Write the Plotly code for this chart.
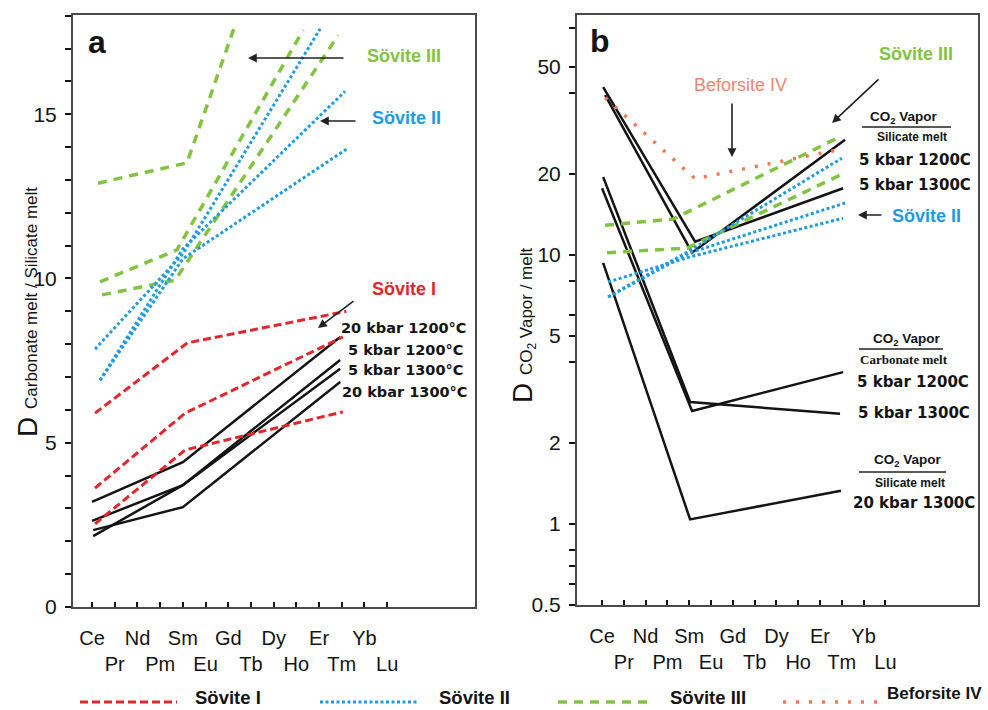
import plotly.graph_objects as go

W, H = 988, 710

# ---------------- axis categories / ticks ----------------
ELEMENTS = ["Ce", "Pr", "Nd", "Pm", "Sm", "Eu", "Gd", "Tb", "Dy", "Ho", "Er", "Tm", "Yb", "Lu"]
ELEMENT_IDX = list(range(len(ELEMENTS)))
ELEMENT_TEXT = [e if i % 2 == 0 else "<br>" + e for i, e in enumerate(ELEMENTS)]

A_Y_MAJOR = [0, 5, 10, 15]
A_Y_MINOR = [1, 2, 3, 4, 6, 7, 8, 9, 11, 12, 13, 14, 16, 17, 18]
B_Y_MAJOR = [0.5, 1, 2, 5, 10, 20, 50]
B_Y_MAJOR_TEXT = ["0.5", "1", "2", "5", "10", "20", "50"]
B_Y_MINOR = [0.6, 0.7, 0.8, 4, 6, 8, 40, 70]

# ---------------- panel a : D carbonate melt / silicate melt ----------------
# x in element-index units (Ce = 0 ... Lu = 13)
A_SOVITE_I_X = [[0.13, 4.2, 11.2], [0.13, 4.1, 11.05], [0.13, 4.1, 11.05]]
A_SOVITE_I_Y = [[5.9, 8.04, 9.0], [3.62, 5.9, 8.22], [2.53, 4.78, 5.94]]

A_SOVITE_II_X = [[0.13, 4.0, 10.05], [0.35, 4.0, 11.15], [0.35, 4.0, 11.28]]
A_SOVITE_II_Y = [[7.85, 10.75, 17.6], [6.9, 10.9, 15.7], [6.9, 10.6, 13.97]]

A_SOVITE_III_X = [[0.26, 4.18, 6.26], [0.35, 3.74, 9.3], [0.44, 3.66, 10.84]]
A_SOVITE_III_Y = [[12.9, 13.52, 17.63], [9.9, 10.87, 17.56], [9.5, 9.95, 17.4]]

A_EXP_X = [[0.0, 4.0, 10.93], [0.0, 4.0, 10.93], [0.05, 4.0, 10.93], [0.05, 4.0, 10.93]]
A_EXP_Y = [[3.2, 4.41, 8.22], [2.62, 3.71, 7.52], [2.16, 3.71, 7.25], [2.34, 3.04, 6.85]]

# ---------------- panel b : D CO2 vapor / melt (log) ----------------
B_SOVITE_II_X = [[0.28, 4.04, 11.06], [0.28, 4.04, 11.15], [0.28, 4.04, 11.0]]
B_SOVITE_II_Y = [[7.94, 9.84, 13.7], [6.98, 10.2, 15.6], [6.98, 10.4, 22.9]]

B_SOVITE_III_X = [[0.14, 3.26, 10.92], [0.23, 3.9, 10.92]]
B_SOVITE_III_Y = [[12.9, 13.6, 27.5], [10.2, 10.6, 19.8]]

B_BEFORSITE_IV_X = [[0.14, 4.27, 10.83]]
B_BEFORSITE_IV_Y = [[38.4, 19.2, 24.6]]

B_EXP_X = [[0.05, 4.27, 11.06], [0.14, 4.13, 11.15],
           [0.05, 4.04, 10.92], [0.0, 4.13, 11.06],
           [0.05, 4.04, 10.96]]
B_EXP_Y = [[42.1, 11.2, 17.7], [39.3, 10.2, 26.8],
           [19.5, 2.84, 2.57], [17.7, 2.63, 3.67],
           [9.34, 1.04, 1.33]]

# ---------------- styles ----------------
RED = "#E3262B"
BLUE = "#1E9CE2"
GREEN = "#82C341"
ORANGE = "#F07A55"
BLACK = "#141414"
FRAME = "#4a4a4a"

STY_I = dict(color=RED, width=3, dash="8px,4px")
STY_II = dict(color=BLUE, width=3, dash="3px,2.5px")
STY_III = dict(color=GREEN, width=3.5, dash="9px,7px")
STY_IV = dict(color=ORANGE, width=3.5, dash="3px,10px")
STY_EXP = dict(color=BLACK, width=2.5)

NARROW = "Liberation Sans Narrow, Arial Narrow, Liberation Sans, Arial, sans-serif"
SANS = "Liberation Sans, Arial, sans-serif"
WIDE = "DejaVu Sans, Verdana, sans-serif"

fig = go.Figure()


def add_lines(xs, ys, style, xa, ya):
    for x, y in zip(xs, ys):
        fig.add_trace(go.Scatter(x=x, y=y, mode="lines", line=style,
                                 xaxis=xa, yaxis=ya, showlegend=False,
                                 hoverinfo="skip"))


add_lines(A_EXP_X, A_EXP_Y, STY_EXP, "x", "y")
add_lines(A_SOVITE_I_X, A_SOVITE_I_Y, STY_I, "x", "y")
add_lines(A_SOVITE_III_X, A_SOVITE_III_Y, STY_III, "x", "y")
add_lines(A_SOVITE_II_X, A_SOVITE_II_Y, STY_II, "x", "y")

add_lines(B_EXP_X, B_EXP_Y, STY_EXP, "x2", "y2")
add_lines(B_SOVITE_III_X, B_SOVITE_III_Y, STY_III, "x2", "y2")
add_lines(B_SOVITE_II_X, B_SOVITE_II_Y, STY_II, "x2", "y2")
add_lines(B_BEFORSITE_IV_X, B_BEFORSITE_IV_Y, STY_IV, "x2", "y2")


def px(x):
    return x / W


def py(y):
    return 1 - y / H


xcommon = dict(tickmode="array", tickvals=ELEMENT_IDX, ticktext=ELEMENT_TEXT,
               ticks="inside", ticklen=5, tickwidth=2, tickcolor=BLACK,
               showline=True, linecolor=FRAME, linewidth=2, mirror=True,
               showgrid=False, zeroline=False, ticklabelstandoff=12,
               tickangle=0, automargin=False,
               tickfont=dict(family=NARROW, size=20, color=BLACK))
ycommon = dict(tickmode="array", ticks="outside", ticklen=6, tickwidth=1.5,
               tickcolor=BLACK, showline=True, linecolor=FRAME, linewidth=2,
               mirror=True, showgrid=False, zeroline=False, ticklabelstandoff=4,
               automargin=False,
               tickfont=dict(family=NARROW, size=21, color=BLACK))

fig.update_layout(
    template="none",
    width=W, height=H, margin=dict(l=0, r=0, t=0, b=0, pad=0), autosize=False,
    paper_bgcolor="white", plot_bgcolor="white", showlegend=False,
    xaxis=dict(domain=[px(73), px(475)], range=[-0.84, 16.87], anchor="y", **xcommon),
    yaxis=dict(domain=[py(607), py(15)], range=[0, 18.02], anchor="x",
               tickvals=A_Y_MAJOR, ticktext=[str(v) for v in A_Y_MAJOR],
               minor=dict(tickmode="array", tickvals=A_Y_MINOR, ticks="outside",
                          ticklen=6, tickwidth=1.5, tickcolor=BLACK, showgrid=False),
               **ycommon),
    xaxis2=dict(domain=[px(577), px(978)], range=[-1.15, 17.25], anchor="y2", **xcommon),
    yaxis2=dict(domain=[py(605), py(15)], type="log", range=[-0.301, 1.892], anchor="x2",
                tickvals=B_Y_MAJOR, ticktext=B_Y_MAJOR_TEXT,
                minor=dict(tickmode="array", tickvals=B_Y_MINOR, ticks="outside",
                           ticklen=6, tickwidth=1.5, tickcolor=BLACK, showgrid=False),
                **ycommon),
)

ann = []


def text(x, y, s, size, color=BLACK, family=SANS, bold=False, xanchor="center", angle=0):
    if bold:
        s = "<b>" + s + "</b>"
    ann.append(dict(x=px(x), y=py(y), xref="paper", yref="paper", text=s,
                    showarrow=False, xanchor=xanchor, yanchor="middle",
                    textangle=angle,
                    font=dict(family=family, size=size, color=color)))


def arrow(x0, y0, x1, y1):
    ann.append(dict(x=px(x1), y=py(y1), xref="paper", yref="paper", text="",
                    showarrow=True, ax=x0 - x1, ay=y0 - y1, axref="pixel", ayref="pixel",
                    arrowhead=2, arrowsize=1.1, arrowwidth=1.6, arrowcolor="#222"))


# panel letters
text(97, 42, "a", 32, bold=True)
text(600, 41, "b", 32, bold=True)

# y titles
text(27, 312, "D <span style='font-size:17px'>Carbonate melt / Silicate melt</span>", 28, angle=-90)
text(523, 325, "D <span style='font-size:17px'>CO<sub>2</sub> Vapor / melt</span>", 28, angle=-90)

# panel a labels
text(404, 56, "Sövite III", 18, GREEN, bold=True)
arrow(345, 58, 248, 58)
text(406, 118, "Sövite II", 18, BLUE, bold=True)
arrow(357, 121, 320, 121)
text(404, 289, "Sövite I", 18, RED, bold=True)
arrow(355, 300, 318, 328)
text(403, 328, "20 kbar 1200°C", 14.5, family=WIDE, bold=True)
text(405, 350, "5 kbar 1200°C", 14.5, family=WIDE, bold=True)
text(405, 370, "5 kbar 1300°C", 14.5, family=WIDE, bold=True)
text(404, 392, "20 kbar 1300°C", 14.5, family=WIDE, bold=True)

# panel b labels
text(916, 54, "Sövite III", 18, GREEN, bold=True)
arrow(880, 78, 832, 123)
text(740, 85, "Beforsite IV", 18, "#F08672")
arrow(732, 102, 732, 157)
text(904, 117, "CO<sub>2</sub> Vapor", 13.5, bold=True)
text(912, 137, "Silicate melt", 12, bold=True)
text(915, 160, "5 kbar 1200C", 15, family=WIDE, bold=True)
text(915, 185, "5 kbar 1300C", 15, family=WIDE, bold=True)
text(926, 216, "Sövite II", 18, BLUE, bold=True)
arrow(883, 215, 858, 215)
text(907, 339, "CO<sub>2</sub> Vapor", 13.5, bold=True)
text(904, 359, "Carbonate melt", 13, family="Liberation Serif, Times New Roman, serif", bold=True)
text(913, 382, "5 kbar 1200C", 15, family=WIDE, bold=True)
text(914, 413, "5 kbar 1300C", 15, family=WIDE, bold=True)
text(908, 460, "CO<sub>2</sub> Vapor", 13.5, bold=True)
text(910, 483, "Silicate melt", 12, bold=True)
text(914, 503, "20 kbar 1300C", 15, family=WIDE, bold=True)

# legend
LEGEND = [("Sövite I", STY_I, 80, 177, 193, 697, 18.5),
          ("Sövite II", STY_II, 320, 418, 437, 697, 18.5),
          ("Sövite III", STY_III, 558, 648, 668, 697, 18.5),
          ("Beforsite IV", STY_IV, 783, 880, 885, 693, 17)]
shapes = []
for name, sty, x0, x1, tx, ty, fs in LEGEND:
    shapes.append(dict(type="line", xref="paper", yref="paper",
                       x0=px(x0), x1=px(x1), y0=py(702), y1=py(702),
                       line=dict(color=sty["color"], width=sty["width"], dash=sty["dash"])))
    text(tx, ty, name, fs, bold=True, xanchor="left")

# fraction bars in panel b
for x0, x1, y in [(862, 951, 127), (859, 943, 349), (859, 946, 472)]:
    shapes.append(dict(type="line", xref="paper", yref="paper",
                       x0=px(x0), x1=px(x1), y0=py(y), y1=py(y),
                       line=dict(color="#222", width=1.5)))

fig.update_layout(annotations=ann, shapes=shapes)
fig.write_html("out.html")
